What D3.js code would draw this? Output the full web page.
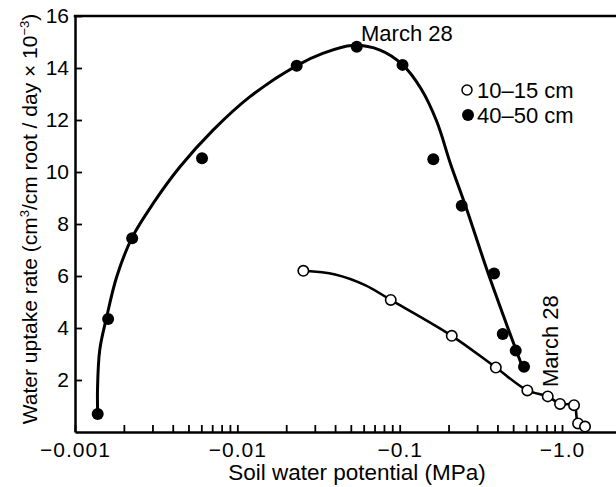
<!DOCTYPE html>
<html>
<head>
<meta charset="utf-8">
<script src="https://cdn.jsdelivr.net/npm/d3@7"></script>
<style>
  html, body { margin: 0; padding: 0; background: #fff; }
  svg { display: block; font-family: "Liberation Sans", Arial, Helvetica, sans-serif; }
</style>
</head>
<body>
<script>
// Soil water potential (MPa) and root water uptake, two soil depths
const deepPotential = [-0.00138, -0.00160, -0.00225, -0.00606, -0.0232, -0.0544, -0.1041, -0.1611, -0.2411, -0.3814, -0.4313, -0.5186, -0.5834];
const deepUptake    = [0.69, 4.35, 7.45, 10.53, 14.09, 14.82, 14.12, 10.49, 8.70, 6.10, 3.77, 3.13, 2.51];

const shallowPotential = [-0.0255, -0.0881, -0.2093, -0.3911, -0.6114, -0.8166, -0.9721, -1.186, -1.255, -1.386];
const shallowUptake    = [6.20, 5.08, 3.70, 2.48, 1.60, 1.37, 1.08, 1.03, 0.33, 0.21];

// Hand-fitted trend curves through each series
const deepFitPotential = [-0.00138, -0.001376, -0.00142, -0.001568, -0.001807, -0.002235, -0.003038, -0.004434, -0.00711, -0.01197, -0.02321, -0.03386, -0.05086, -0.07566, -0.1044, -0.1354, -0.1690, -0.2060, -0.2577, -0.3451, -0.4716, -0.5673];
const deepFitUptake    = [0.69, 1.62, 3.15, 4.43, 5.97, 7.45, 8.80, 10.20, 11.62, 12.90, 14.09, 14.57, 14.87, 14.69, 14.12, 13.20, 11.95, 10.30, 8.60, 6.23, 3.88, 2.54];

const shallowFitPotential = [-0.0255, -0.0400, -0.0612, -0.0881, -0.2093, -0.3911, -0.6114, -0.8166, -0.9721, -1.186, -1.255, -1.386];
const shallowFitUptake    = [6.20, 6.06, 5.65, 5.08, 3.70, 2.48, 1.60, 1.37, 1.08, 1.03, 0.33, 0.21];

// Axis ticks and labels
const xMajorTicks  = [-0.001, -0.01, -0.1, -1];
const xMajorLabels = ["\u22120.001", "\u22120.01", "\u22120.1", "\u22121.0"];
const xMinorSteps  = [2, 3, 4, 5, 6, 7, 8, 9];
const yTicks       = [2, 4, 6, 8, 10, 12, 14, 16];

const legendLabels = ["10\u201315 cm", "40\u201350 cm"];
const peakNote = "March 28";

const W = 616, H = 487;
const svg = d3.select("body").append("svg").attr("width", W).attr("height", H);

const x = d3.scaleLog().domain([-0.001, -2.15]).range([75, 616]);
const y = d3.scaleLinear().domain([0, 16]).range([432, 16]);

const minorTicks = [];
xMajorTicks.slice(0, 3).forEach(d => xMinorSteps.forEach(m => minorTicks.push(d * m)));
const labelOf = new Map(xMajorTicks.map((d, i) => [d, xMajorLabels[i]]));

// x axis
const gx = svg.append("g").attr("transform", `translate(0,${y(0)})`)
  .call(d3.axisBottom(x)
    .tickValues(xMajorTicks.concat(minorTicks))
    .tickSize(-7).tickSizeOuter(0).tickPadding(10)
    .tickFormat(d => labelOf.get(d) || ""));
// y axis
const gy = svg.append("g").attr("transform", `translate(${x(-0.001)},0)`)
  .call(d3.axisLeft(y).tickValues(yTicks).tickSize(-7).tickSizeOuter(0).tickPadding(6));

[gx, gy].forEach(g => {
  g.select(".domain").attr("stroke", "#000").attr("stroke-width", 2.5);
  g.selectAll(".tick line").attr("stroke", "#000").attr("stroke-width", 1.8);
  g.selectAll(".tick text").attr("fill", "#000").style("font-size", "21px")
    .style("font-family", "'Liberation Sans', Arial, sans-serif");
});
gx.selectAll(".tick text").style("letter-spacing", "1px");

// frame top
svg.append("line")
  .attr("x1", x(-0.001) - 1.25).attr("x2", W)
  .attr("y1", y(16)).attr("y2", y(16))
  .attr("stroke", "#000").attr("stroke-width", 2.5);

// axis titles
svg.append("text")
  .attr("x", 357).attr("y", 480)
  .attr("text-anchor", "middle").style("font-size", "22.5px")
  .text("Soil water potential (MPa)");

const yt = svg.append("text")
  .attr("transform", "translate(37,219) rotate(-90)")
  .attr("text-anchor", "middle").style("font-size", "21px");
yt.append("tspan").text("Water uptake rate (cm");
yt.append("tspan").attr("dy", -8).style("font-size", "13px").text("3");
yt.append("tspan").attr("dy", 8).text("/cm root / day \u00d7 10");
yt.append("tspan").attr("dy", -8).style("font-size", "13px").text("\u22123");
yt.append("tspan").attr("dy", 8).text(")");

// fitted curves
const line = d3.line().x(d => x(d[0])).y(d => y(d[1])).curve(d3.curveCatmullRom.alpha(0.5));
svg.append("path")
  .attr("d", line(d3.zip(deepFitPotential, deepFitUptake)))
  .attr("fill", "none").attr("stroke", "#000").attr("stroke-width", 3);
svg.append("path")
  .attr("d", line(d3.zip(shallowFitPotential, shallowFitUptake)))
  .attr("fill", "none").attr("stroke", "#000").attr("stroke-width", 2.6);

// points
svg.append("g").selectAll("circle")
  .data(d3.zip(shallowPotential, shallowUptake)).join("circle")
  .attr("cx", d => x(d[0])).attr("cy", d => y(d[1])).attr("r", 5.2)
  .attr("fill", "#fff").attr("stroke", "#000").attr("stroke-width", 1.6);
svg.append("g").selectAll("circle")
  .data(d3.zip(deepPotential, deepUptake)).join("circle")
  .attr("cx", d => x(d[0])).attr("cy", d => y(d[1])).attr("r", 6)
  .attr("fill", "#000");

// notes
svg.append("text").attr("x", 361).attr("y", 40.5).style("font-size", "22px").text(peakNote);
svg.append("text").attr("transform", "translate(558,387) rotate(-90)")
  .style("font-size", "22px").text(peakNote);

// legend
const lg = svg.append("g");
lg.append("circle").attr("cx", 467).attr("cy", 90).attr("r", 5)
  .attr("fill", "#fff").attr("stroke", "#000").attr("stroke-width", 1.5);
lg.append("circle").attr("cx", 468).attr("cy", 115).attr("r", 6).attr("fill", "#000");
lg.append("text").attr("x", 477).attr("y", 97.5).style("font-size", "22px").text(legendLabels[0]);
lg.append("text").attr("x", 477).attr("y", 122.5).style("font-size", "22px").text(legendLabels[1]);
</script>
</body>
</html>
